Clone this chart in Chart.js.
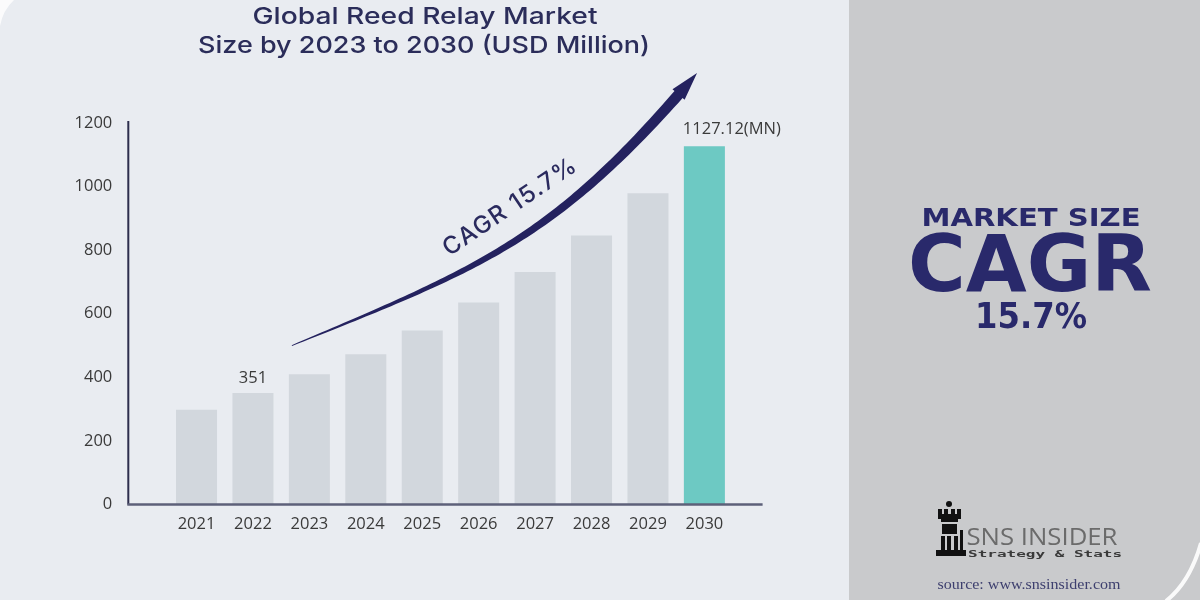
<!DOCTYPE html>
<html>
<head>
<meta charset="utf-8">
<script src="https://cdn.jsdelivr.net/npm/chart.js@4.4.1/dist/chart.umd.min.js"></script>
<style>
  html, body { margin: 0; padding: 0; background: #e9ecf1; }
  #wrap { width: 1200px; height: 600px; position: relative; overflow: hidden; }
</style>
</head>
<body>
<div id="wrap"><canvas id="chart" width="1200" height="600"></canvas></div>
<script>
const years = ['2021', '2022', '2023', '2024', '2025', '2026', '2027', '2028', '2029', '2030'];
const marketSize = [298, 351, 410, 473, 547, 635, 731, 846, 979, 1127.12];
const valueLabels = ['', '351', '', '', '', '', '', '', '', '1127.12(MN)'];
const yTicks = [0, 200, 400, 600, 800, 1000, 1200];

const barColors = years.map((y, i) => i === years.length - 1 ? '#6dc9c3' : '#d2d7dd');

// draw text squeezed/stretched to a given width
function fitText(ctx, text, cx, y, font, width, color, baseline) {
    ctx.save();
    ctx.font = font;
    ctx.fillStyle = color;
    ctx.textAlign = 'center';
    ctx.textBaseline = baseline || 'alphabetic';
    const w = ctx.measureText(text).width;
    ctx.translate(cx, y);
    ctx.scale(width / w, 1);
    ctx.fillText(text, 0, 0);
    ctx.restore();
}

function bez(p, t) {
    const u = 1 - t;
    return {
        x: u * u * u * p[0].x + 3 * u * u * t * p[1].x + 3 * u * t * t * p[2].x + t * t * t * p[3].x,
        y: u * u * u * p[0].y + 3 * u * u * t * p[1].y + 3 * u * t * t * p[2].y + t * t * t * p[3].y
    };
}

const decor = {
    id: 'decor',
    beforeDraw(chart) {
        const ctx = chart.ctx;
        ctx.save();
        ctx.fillStyle = '#e9ecf1';
        ctx.fillRect(0, 0, 850, 600);
        ctx.fillStyle = '#c9cacc';
        ctx.fillRect(849, 0, 351, 600);
        // white corner swooshes
        ctx.strokeStyle = 'rgba(255,255,255,0.9)';
        ctx.lineWidth = 4;
        ctx.beginPath();
        ctx.moveTo(1201, 543);
        ctx.quadraticCurveTo(1190, 582, 1166, 601);
        ctx.stroke();
        ctx.fillStyle = 'rgba(255,255,255,0.8)';
        ctx.beginPath();
        ctx.moveTo(0, 0);
        ctx.lineTo(14, 0);
        ctx.quadraticCurveTo(3, 10, 0, 26);
        ctx.closePath();
        ctx.fill();
        ctx.restore();
    },
    afterDatasetsDraw(chart) {
        const ctx = chart.ctx;
        const xs = chart.scales.x, ys = chart.scales.y;
        const area = chart.chartArea;
        const x0 = xs.getPixelForValue(0);
        const step = xs.getPixelForValue(1) - x0;
        const pt = (idx, val) => ({ x: x0 + idx * step, y: ys.getPixelForValue(val) });

        // axis lines
        const axisX = area.left - 40;
        const baseY = ys.getPixelForValue(0);
        ctx.save();
        ctx.strokeStyle = '#2d2e4d';
        ctx.lineWidth = 2;
        ctx.beginPath();
        ctx.moveTo(axisX, ys.getPixelForValue(1200) - 2);
        ctx.lineTo(axisX, baseY);
        ctx.stroke();
        ctx.strokeStyle = '#5d6079';
        ctx.lineWidth = 2.5;
        ctx.beginPath();
        ctx.moveTo(axisX - 1, baseY);
        ctx.lineTo(area.right + 30, baseY);
        ctx.stroke();
        ctx.restore();

        // value labels
        const meta = chart.getDatasetMeta(0);
        ctx.save();
        ctx.font = '16.5px "Open Sans"';
        ctx.fillStyle = '#3a3a3a';
        ctx.textBaseline = 'middle';
        valueLabels.forEach((lab, i) => {
            if (!lab) return;
            const bar = meta.data[i];
            if (i === valueLabels.length - 1) {
                ctx.textAlign = 'left';
                ctx.fillText(lab, bar.x - bar.width / 2 - 1, bar.y - 17);
            } else {
                ctx.textAlign = 'center';
                ctx.fillText(lab, bar.x, bar.y - 15);
            }
        });
        ctx.restore();

        // growth arrow
        const p = [pt(1.69, 500), pt(5.10, 748), pt(6.39, 839), pt(8.87, 1357)];
        const tHead = 0.955;
        const N = 90;
        const left = [], right = [];
        for (let k = 0; k <= N; k++) {
            const t = tHead * k / N;
            const a = bez(p, Math.max(0, t - 0.002)), b = bez(p, t + 0.002);
            const c = bez(p, t);
            let dx = b.x - a.x, dy = b.y - a.y;
            const len = Math.hypot(dx, dy);
            dx /= len; dy /= len;
            const hw = 0.4 + 5 * Math.pow(k / N, 0.8);
            left.push({ x: c.x - dy * hw, y: c.y + dx * hw });
            right.push({ x: c.x + dy * hw, y: c.y - dx * hw });
        }
        const B = bez(p, tHead);
        let hx = p[3].x - B.x, hy = p[3].y - B.y;
        const hl = Math.hypot(hx, hy);
        hx /= hl; hy /= hl;
        ctx.save();
        ctx.fillStyle = '#24225f';
        ctx.beginPath();
        ctx.moveTo(left[0].x, left[0].y);
        left.forEach(q => ctx.lineTo(q.x, q.y));
        ctx.lineTo(B.x - hy * 8, B.y + hx * 8);
        ctx.lineTo(p[3].x, p[3].y);
        ctx.lineTo(B.x + hy * 8, B.y - hx * 8);
        for (let k = right.length - 1; k >= 0; k--) ctx.lineTo(right[k].x, right[k].y);
        ctx.closePath();
        ctx.fill();

        // CAGR text along the arrow
        const tc = pt(5.56, 936);
        ctx.translate(tc.x, tc.y);
        ctx.rotate(-34 * Math.PI / 180);
        ctx.font = '500 24px Inter';
        ctx.letterSpacing = '1.5px';
        ctx.fillStyle = '#2a2a5e';
        ctx.textAlign = 'center';
        ctx.textBaseline = 'middle';
        ctx.fillText('CAGR 15.7%', 0, 0);
        ctx.restore();
    },
    afterDraw(chart) {
        const ctx = chart.ctx;
        // title
        fitText(ctx, 'Global Reed Relay Market', 425, 17, '500 23.5px Inter', 345, '#2b2d5a', 'middle');
        fitText(ctx, 'Size by 2023 to 2030 (USD Million)', 424, 46, '500 23.5px Inter', 452, '#2b2d5a', 'middle');

        // right panel
        const navy = '#29296b';
        fitText(ctx, 'MARKET SIZE', 1031, 226, 'bold 25px "DejaVu Sans"', 219, navy);
        fitText(ctx, 'CAGR', 1030, 291, 'bold 78px "DejaVu Sans"', 244, navy);
        fitText(ctx, '15.7%', 1031, 328, 'bold 36px "DejaVu Sans"', 112, navy);

        // logo
        ctx.save();
        ctx.fillStyle = '#111';
        ctx.beginPath();
        ctx.arc(949, 504, 3, 0, Math.PI * 2);
        ctx.fill();
        ctx.fillRect(938, 509, 4, 6);
        ctx.fillRect(944, 509, 4, 6);
        ctx.fillRect(951, 509, 4, 6);
        ctx.fillRect(957, 509, 4, 6);
        ctx.fillRect(938, 514, 23, 5);
        ctx.fillRect(941, 519, 17, 3);
        ctx.fillRect(942, 524, 15, 10);
        ctx.fillRect(941, 536, 4, 14);
        ctx.fillRect(947, 536, 4, 14);
        ctx.fillRect(954, 536, 4, 14);
        ctx.fillRect(960, 530, 3, 20);
        ctx.fillRect(936, 550, 30, 6);
        ctx.restore();
        fitText(ctx, 'SNS INSIDER', 1042, 545, '500 23px "Open Sans"', 151, '#6b6b6b');
        fitText(ctx, 'Strategy & Stats', 1045, 557, 'bold 9px "DejaVu Sans Mono"', 154, '#3a3a3a');
        fitText(ctx, 'source: www.snsinsider.com', 1029, 589, '15px "Liberation Serif"', 183, '#3d3f6e');
    }
};

function drawChart() {
    new Chart(document.getElementById('chart'), {
        type: 'bar',
        data: {
            labels: years,
            datasets: [{
                label: 'Market Size',
                data: marketSize,
                backgroundColor: barColors,
                borderWidth: 0,
                categoryPercentage: 1,
                barPercentage: 0.727
            }]
        },
        options: {
            responsive: false,
            devicePixelRatio: 1,
            animation: false,
            layout: {
                padding: { left: 0, right: 467.4, top: 123, bottom: 66.5 }
            },
            plugins: {
                legend: { display: false },
                tooltip: { enabled: false },
                title: { display: false }
            },
            scales: {
                x: {
                    grid: { display: false, drawTicks: false },
                    border: { display: false },
                    ticks: {
                        padding: 10,
                        color: '#3a3a3a',
                        font: { family: 'Open Sans', size: 16.5 }
                    },
                    afterFit(scale) { scale.height = 29; }
                },
                y: {
                    min: 0,
                    max: 1200,
                    grid: { display: false, drawTicks: false },
                    border: { display: false },
                    afterBuildTicks(scale) { scale.ticks = yTicks.map(v => ({ value: v })); },
                    ticks: {
                        padding: 56,
                        color: '#3a3a3a',
                        font: { family: 'Open Sans', size: 16.5 },
                        callback: v => String(v)
                    },
                    afterFit(scale) { scale.width = 168.3; }
                }
            }
        },
        plugins: [decor]
    });
}

Promise.all([
    document.fonts.load('500 23.5px Inter'),
    document.fonts.load('16.5px "Open Sans"'),
    document.fonts.load('500 23px "Open Sans"'),
    document.fonts.load('bold 25px "DejaVu Sans"'),
    document.fonts.load('bold 9px "DejaVu Sans Mono"'),
    document.fonts.load('15px "Liberation Serif"')
]).catch(() => {}).then(drawChart);
</script>
</body>
</html>
